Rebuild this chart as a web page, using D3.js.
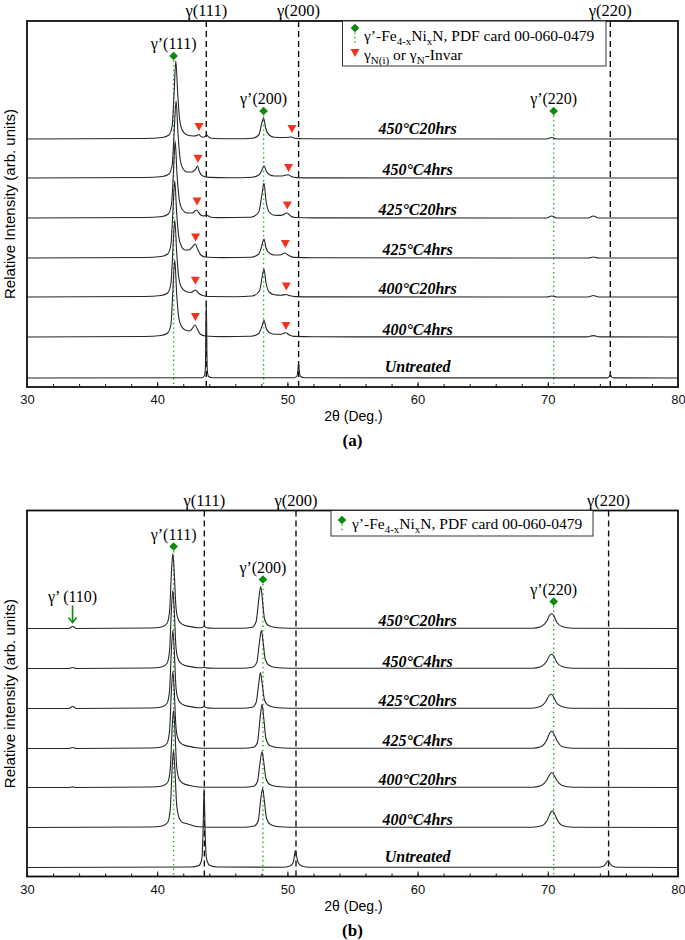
<!DOCTYPE html>
<html>
<head>
<meta charset="utf-8">
<script src="https://cdn.jsdelivr.net/npm/d3@7"></script>
<style>
  body { margin: 0; background: #fff; }
  .tick text { font-family: "Liberation Sans", Arial, sans-serif; font-size: 13px; fill: #111; }
  .sample { font-family: "Liberation Serif", "Times New Roman", serif; font-size: 16px; font-weight: bold; font-style: italic; }
  .serif { font-family: "Liberation Serif", "Times New Roman", serif; }
  .sans { font-family: "Liberation Sans", Arial, sans-serif; }
</style>
</head>
<body>
<div id="chart"></div>
<script>
// sample names, bottom trace first
var samples = ["Untreated", "400°C4hrs", "400°C20hrs", "425°C4hrs", "425°C20hrs", "450°C4hrs", "450°C20hrs"];
var xTicks = [30, 40, 50, 60, 70, 80];

// vertical offset of every trace (arb. units)
var offsetsA = [9, 50, 90, 129, 169, 209, 248];
var offsetsB = [9, 49, 89, 128, 168, 208, 248];

// ---- panel (a) patterns: [2theta, intensity above own baseline]
var a_untreated = [[30,0],[43.4,0.3],[43.62,2],[43.7,10],[43.77,78],[43.84,10],[43.92,2],[44.2,0.3],[50.5,0.2],[50.74,2],[50.81,8],[50.86,15],[50.91,8],[50.98,2],[51.3,0.2],[74.55,0.1],[74.72,1.5],[74.8,4],[74.88,1.5],[75.05,0.1],[80,0]];
var a_400C4 = [[30,0],[39,0.5],[40.3,1.5],[40.8,4],[41.05,12],[41.2,45],[41.35,77],[41.5,42],[41.65,20],[41.85,11],[42.15,7],[42.5,6],[42.72,9],[42.9,12],[43.08,8],[43.3,3],[43.7,1],[45,0.4],[47.2,0.8],[47.8,3.5],[48.05,11],[48.2,16.7],[48.36,9],[48.6,4.5],[49,2.8],[49.5,2.8],[49.87,4.2],[50.15,2],[50.5,0.6],[52,0.2],[73,0.1],[73.5,1.4],[74,0.1],[80,0]];
var a_400C20 = [[30,0],[39,0.5],[40.3,1.5],[40.8,4],[41.05,13],[41.2,46],[41.35,77],[41.5,44],[41.65,20],[41.85,10],[42.2,5.5],[42.6,4.5],[42.93,7],[43.2,3.5],[43.5,1.5],[44,0.5],[46,0.3],[47.3,1],[47.85,6],[48.05,19],[48.2,28],[48.36,14],[48.6,5],[49,2.3],[49.5,1.8],[49.9,2.5],[50.2,1.2],[50.6,0.4],[52,0.1],[69.9,0],[70.3,1],[70.7,0],[73.1,0],[73.5,1.5],[73.9,0],[80,0]];
var a_425C4 = [[30,0],[39,0.5],[40.3,1.5],[40.8,4],[41.05,13],[41.2,45],[41.35,77],[41.5,44],[41.65,22],[41.85,12],[42.15,8],[42.45,8],[42.7,11],[42.93,14],[43.1,9],[43.35,3],[43.7,1],[45,0.4],[47.2,0.8],[47.8,4],[48.05,13],[48.2,19],[48.36,10],[48.6,5],[49,3],[49.45,3],[49.8,5],[50.1,2.5],[50.5,0.6],[52,0.2],[73.1,0],[73.5,1],[73.9,0],[80,0]];
var a_425C20 = [[30,0],[39,0.5],[40.4,1.5],[40.85,4],[41.1,14],[41.25,46],[41.38,77],[41.52,44],[41.68,20],[41.9,9],[42.3,5],[42.7,5],[43.03,8],[43.3,3.5],[43.55,2],[43.8,3],[44.05,1],[44.6,0.4],[47.2,0.8],[47.8,6],[48.05,24],[48.2,35],[48.36,17],[48.6,6],[49,2.8],[49.5,2.6],[49.97,5],[50.25,2],[50.6,0.5],[52,0.1],[69.9,0],[70.3,2],[70.7,0],[73.1,0],[73.5,2],[73.9,0],[80,0]];
var a_450C4 = [[30,0],[39,0.5],[40.4,1.5],[40.9,4],[41.15,13],[41.3,45],[41.45,77],[41.6,44],[41.75,20],[41.95,10],[42.3,6],[42.7,6],[42.95,9],[43.1,12],[43.25,6],[43.5,2],[44,0.6],[45.5,0.3],[47.3,0.8],[47.85,3.5],[48.05,8],[48.2,12.3],[48.38,7],[48.6,3.5],[49,2],[49.6,2],[50.05,3.3],[50.3,1.5],[50.7,0.4],[52,0.1],[80,0]];
var a_450C20 = [[30,0],[39,0.5],[40.4,1.5],[40.9,4],[41.15,13],[41.3,46],[41.43,78],[41.58,44],[41.72,20],[41.92,9],[42.3,4],[42.8,3],[43.05,3.5],[43.2,4.5],[43.4,2],[43.6,2],[43.8,4],[44,1.5],[44.4,0.5],[46,0.3],[47.3,0.8],[47.8,4],[48.02,15],[48.17,21],[48.33,11],[48.6,4],[49,1.8],[49.8,1.5],[50.3,2],[50.6,0.7],[51.2,0.2],[69.9,0],[70.3,1.5],[70.7,0],[80,0]];

// ---- panel (b) patterns
var b_untreated = [[30,0],[42.6,0.5],[43.2,2],[43.42,8],[43.52,35],[43.6,79],[43.68,35],[43.8,8],[44.05,2],[44.6,0.5],[49.6,0.3],[50.2,1.5],[50.45,5],[50.55,13],[50.62,17],[50.7,12],[50.82,5],[51.1,1.5],[51.7,0.3],[73.8,0.2],[74.3,1.5],[74.5,4.5],[74.62,6.7],[74.75,4.5],[74.95,1.5],[75.4,0.2],[80,0]];
var b_400C4 = [[30,0],[39.5,0.5],[40.4,1.5],[40.8,5],[41,18],[41.15,60],[41.25,77],[41.35,60],[41.5,22],[41.7,9],[41.95,5],[42.3,3.8],[42.6,2.5],[43,1],[44,0.3],[46.6,0.3],[47.4,1.2],[47.75,6],[47.95,28],[48.1,39],[48.22,28],[48.4,9],[48.7,3],[49.2,1],[50.2,0.2],[68.8,0.2],[69.6,2],[69.95,7],[70.2,14.5],[70.35,16.7],[70.5,14],[70.75,7],[71.1,2],[71.9,0.2],[80,0]];
var b_400C20 = [[30,0],[33.2,0],[33.5,0.6],[33.8,0],[39.5,0.5],[40.4,1.5],[40.8,5],[41,18],[41.15,60],[41.25,77],[41.35,60],[41.5,20],[41.7,8],[42,4],[42.5,2],[43,0.8],[44,0.3],[46.6,0.3],[47.4,1.2],[47.7,6],[47.9,25],[48.05,36],[48.18,26],[48.35,9],[48.65,3],[49.2,1],[50.2,0.2],[68.8,0.2],[69.5,2],[69.9,7],[70.15,13],[70.3,15],[70.45,13],[70.7,7],[71.1,2],[71.9,0.2],[80,0]];
var b_425C4 = [[30,0],[33.2,0],[33.5,1],[33.8,0],[39.5,0.5],[40.35,1.5],[40.75,5],[40.95,18],[41.1,60],[41.2,77],[41.3,60],[41.45,20],[41.65,8],[41.95,4],[42.5,2],[43,0.8],[44,0.3],[46.6,0.3],[47.4,1.2],[47.7,6],[47.9,30],[48.05,44],[48.18,31],[48.35,10],[48.65,3],[49.2,1],[50.2,0.2],[68.8,0.2],[69.5,2],[69.9,8],[70.15,15.5],[70.3,17.3],[70.45,15],[70.7,8],[71.1,2],[71.9,0.2],[80,0]];
var b_425C20 = [[30,0],[33.2,0],[33.5,2],[33.8,0],[39.5,0.5],[40.35,1.5],[40.75,5],[40.95,18],[41.1,61],[41.2,78],[41.3,61],[41.45,20],[41.65,8],[41.95,4],[42.5,2],[43.1,0.8],[43.45,1],[43.6,2],[43.78,0.8],[44.3,0.3],[46.5,0.3],[47.3,1.2],[47.6,6],[47.8,25],[47.93,36],[48.06,25],[48.25,8],[48.55,3],[49.1,1],[50.1,0.2],[68.7,0.2],[69.45,2],[69.85,7],[70.1,13],[70.25,14.3],[70.4,12.5],[70.65,6],[71.05,2],[71.8,0.2],[80,0]];
var b_450C4 = [[30,0],[33.2,0],[33.5,1],[33.8,0],[39.5,0.5],[40.35,1.5],[40.75,5],[40.95,18],[41.1,61],[41.2,78],[41.3,61],[41.45,20],[41.65,8],[41.95,4],[42.5,2],[43.1,0.8],[43.45,0.8],[43.6,1.2],[43.78,0.6],[44.3,0.3],[46.5,0.3],[47.3,1.2],[47.65,6],[47.85,26],[48,38],[48.13,27],[48.3,9],[48.6,3],[49.1,1],[50.1,0.2],[68.8,0.2],[69.5,2],[69.9,7],[70.15,13],[70.3,14.3],[70.45,12.5],[70.7,6],[71.1,2],[71.9,0.2],[80,0]];
var b_450C20 = [[30,0],[33.2,0],[33.5,2],[33.8,0],[39.5,0.5],[40.35,1.5],[40.75,5],[40.95,17],[41.1,58],[41.2,75],[41.3,58],[41.45,20],[41.65,8],[41.95,4],[42.5,2],[43.1,0.8],[43.45,1],[43.6,2.5],[43.78,0.8],[44.3,0.3],[46.5,0.3],[47.3,1.2],[47.6,7],[47.8,29],[47.95,42],[48.08,29],[48.25,9],[48.55,3],[49.1,1],[50.1,0.2],[68.8,0.2],[69.5,2],[69.9,7],[70.15,13.5],[70.3,15],[70.45,13],[70.7,6],[71.1,2],[71.9,0.2],[80,0]];

// austenite reference lines (dashed)
var gammaLabels = ["γ(111)", "γ(200)", "γ(220)"];
var gammaA = [43.77, 50.86, 74.8];
var gammaB = [43.62, 50.66, 74.67];

// gamma' reference peaks (green diamonds): position and marker height
var primeLabels = ["γ’(111)", "γ’(200)", "γ’(220)"];
var primeXA = [41.26, 48.17, 70.45];
var primeYA = [331, 276, 276];
var primeXB = [41.26, 48.12, 70.45];
var primeYB = [330, 297, 275];

// gamma_N(i) markers (red triangles) in panel (a), trace 1..6, [2theta, height above baseline]
var triA = [
  [[42.93, 20], [49.89, 11]],
  [[42.93, 16.3], [49.92, 10.6]],
  [[42.95, 20.6], [49.84, 14]],
  [[43.06, 16.6], [49.99, 12.6]],
  [[43.13, 19.3], [50.09, 10]],
  [[43.21, 12], [50.35, 10]]
];

var svgWidth = 685, svgHeight = 940;
var margin = { left: 27 };
var width = 651, height = 366;
var panelTops = [21, 510.5];

var svg = d3.select("#chart").append("svg")
  .attr("width", svgWidth)
  .attr("height", svgHeight);

var x = d3.scaleLinear().domain([30, 80]).range([0, width]);
var y = d3.scaleLinear().domain([0, 366]).range([height, 0]);

var green = "#0b8a0b", dotGreen = "#22a822", red = "#f4331c", traceColor = "#262626";
var triPath = "M-4.5,-4L4.5,-4L0,4Z";

function drawPanel(top, cfg) {
  var g = svg.append("g").attr("transform", `translate(${margin.left}, ${top})`);

  // dashed gamma lines + labels above the frame
  cfg.gamma.forEach(function(d, i) {
    g.append("line")
      .attr("x1", x(d)).attr("x2", x(d))
      .attr("y1", 0).attr("y2", height)
      .attr("stroke", "#111").attr("stroke-width", 1.4)
      .attr("stroke-dasharray", "6,4");
    g.append("text").attr("class", "serif")
      .attr("x", x(d)).attr("y", -5)
      .attr("text-anchor", "middle")
      .style("font-size", "16.5px")
      .text(gammaLabels[i]);
  });

  // dotted green gamma' lines
  cfg.primeX.forEach(function(d, i) {
    g.append("line")
      .attr("x1", x(d)).attr("x2", x(d))
      .attr("y1", y(cfg.primeY[i])).attr("y2", height)
      .attr("stroke", dotGreen).attr("stroke-width", 1.4)
      .attr("stroke-dasharray", "1.4,3.2");
  });

  // traces
  var line = d3.line()
    .x(d => x(d[0]))
    .curve(d3.curveMonotoneX);

  cfg.traces.forEach(function(tr, i) {
    var off = cfg.offsets[i];
    g.append("path")
      .datum(tr)
      .attr("fill", "none")
      .attr("stroke", traceColor)
      .attr("stroke-width", 1.1)
      .attr("d", line.y(d => y(d[1] + off)));

    g.append("text").attr("class", "sample")
      .attr("x", x(60)).attr("y", y(off) - cfg.labelLift[i])
      .attr("text-anchor", "middle")
      .text(samples[i]);
  });

  // diamonds and labels
  var diamond = d3.symbol().type(d3.symbolSquare).size(38);
  cfg.primeX.forEach(function(d, i) {
    g.append("path")
      .attr("d", diamond())
      .attr("transform", `translate(${x(d)}, ${y(cfg.primeY[i])}) rotate(45)`)
      .attr("fill", green);
    g.append("text").attr("class", "serif")
      .attr("x", x(d)).attr("y", y(cfg.primeY[i]) - 7)
      .attr("text-anchor", "middle")
      .style("font-size", "16px")
      .text(primeLabels[i]);
  });

  // red triangles
  if (cfg.triangles) {
    cfg.triangles.forEach(function(pair, i) {
      var off = cfg.offsets[i + 1];
      pair.forEach(function(p) {
        g.append("path")
          .attr("d", triPath)
          .attr("transform", `translate(${x(p[0])}, ${y(p[1] + off)})`)
          .attr("fill", red);
      });
    });
  }

  // frame
  g.append("rect")
    .attr("width", width).attr("height", height)
    .attr("fill", "none").attr("stroke", "#111").attr("stroke-width", 1.8);

  // x axis: minor + major ticks inward
  g.append("g")
    .attr("transform", `translate(0, ${height})`)
    .call(d3.axisBottom(x).tickValues(d3.range(30, 81, 2)).tickSize(-3).tickFormat(""))
    .call(a => a.select(".domain").remove())
    .call(a => a.selectAll("line").attr("stroke", "#111"));
  g.append("g")
    .attr("transform", `translate(0, ${height})`)
    .call(d3.axisBottom(x).tickValues(xTicks).tickSize(-5).tickPadding(8).tickFormat(d3.format("d")))
    .call(a => a.select(".domain").remove())
    .call(a => a.selectAll("line").attr("stroke", "#111"));

  g.append("text").attr("class", "sans")
    .attr("x", width / 2 + 1).attr("y", height + 34)
    .attr("text-anchor", "middle")
    .style("font-size", "14px")
    .text("2θ (Deg.)");

  g.append("text").attr("class", "serif")
    .attr("x", width / 2).attr("y", height + 59)
    .attr("text-anchor", "middle")
    .style("font-size", "17px").style("font-weight", "bold")
    .text(cfg.letter);

  g.append("text").attr("class", "sans")
    .attr("transform", "rotate(-90)")
    .attr("x", -height / 2).attr("y", -12)
    .attr("text-anchor", "middle")
    .style("font-size", "15px")
    .text(cfg.ylabel);

  return g;
}

// legend text with subscripts
function legendPrime(t) {
  t.append("tspan").text("γ’-Fe");
  t.append("tspan").attr("dy", 4).style("font-size", "11px").text("4-x");
  t.append("tspan").attr("dy", -4).text("Ni");
  t.append("tspan").attr("dy", 4).style("font-size", "11px").text("x");
  t.append("tspan").attr("dy", -4).text("N, PDF card 00-060-0479");
}

function legendSymbol(g, cx, cy, len) {
  g.append("line")
    .attr("x1", cx).attr("x2", cx).attr("y1", cy).attr("y2", cy + len)
    .attr("stroke", dotGreen).attr("stroke-width", 1.4).attr("stroke-dasharray", "1.4,3");
  g.append("path")
    .attr("d", d3.symbol().type(d3.symbolSquare).size(38)())
    .attr("transform", `translate(${cx}, ${cy}) rotate(45)`)
    .attr("fill", green);
}

// ---- panel (a)
var gA = drawPanel(panelTops[0], {
  traces: [a_untreated, a_400C4, a_400C20, a_425C4, a_425C20, a_450C4, a_450C20],
  offsets: offsetsA,
  labelLift: [6.5, 2.5, 3.5, 3, 3.5, 3, 5.5],
  gamma: gammaA,
  primeX: primeXA, primeY: primeYA,
  triangles: triA,
  letter: "(a)",
  ylabel: "Relative Intensity (arb. units)"
});

var legA = gA.append("g").attr("transform", "translate(315.5, 0)");
legA.append("rect").attr("width", 263.5).attr("height", 45)
  .attr("fill", "#fff").attr("stroke", "#333").attr("stroke-width", 1);
legendSymbol(legA, 12.5, 7, 16);
legendPrime(legA.append("text").attr("class", "serif")
  .attr("x", 21.5).attr("y", 20).style("font-size", "15.5px"));
legA.append("path").attr("d", triPath)
  .attr("transform", "translate(12.5, 32)").attr("fill", red);
var t2 = legA.append("text").attr("class", "serif")
  .attr("x", 21.5).attr("y", 39).style("font-size", "15.5px");
t2.append("tspan").text("γ");
t2.append("tspan").attr("dy", 4).style("font-size", "11px").text("N(i)");
t2.append("tspan").attr("dy", -4).text(" or γ");
t2.append("tspan").attr("dy", 4).style("font-size", "11px").text("N");
t2.append("tspan").attr("dy", -4).text("-Invar");

// ---- panel (b)
var gB = drawPanel(panelTops[1], {
  traces: [b_untreated, b_400C4, b_400C20, b_425C4, b_425C20, b_450C4, b_450C20],
  offsets: offsetsB,
  labelLift: [6, 2.5, 2.5, 2.5, 3, 1.5, 3],
  gamma: gammaB,
  primeX: primeXB, primeY: primeYB,
  letter: "(b)",
  ylabel: "Relative intensity (arb. units)"
});

var legB = gB.append("g").attr("transform", "translate(304, 0)");
legB.append("rect").attr("width", 262).attr("height", 25.5)
  .attr("fill", "#fff").attr("stroke", "#333").attr("stroke-width", 1);
legendSymbol(legB, 11, 9.5, 13);
legendPrime(legB.append("text").attr("class", "serif")
  .attr("x", 21).attr("y", 18.5).style("font-size", "15.5px"));

// gamma'(110) arrow in panel (b)
var arrowX = 33.5;
gB.append("text").attr("class", "serif")
  .attr("x", x(arrowX)).attr("y", y(280) + 5.5)
  .attr("text-anchor", "middle").style("font-size", "16px")
  .text("γ’ (110)");
gB.append("line")
  .attr("x1", x(arrowX)).attr("x2", x(arrowX))
  .attr("y1", y(271)).attr("y2", y(255))
  .attr("stroke", green).attr("stroke-width", 1.6);
gB.append("path")
  .attr("d", "M-4,-5L0,0L4,-5")
  .attr("transform", `translate(${x(arrowX)}, ${y(254)})`)
  .attr("fill", "none").attr("stroke", green).attr("stroke-width", 1.6);
</script>
</body>
</html>
